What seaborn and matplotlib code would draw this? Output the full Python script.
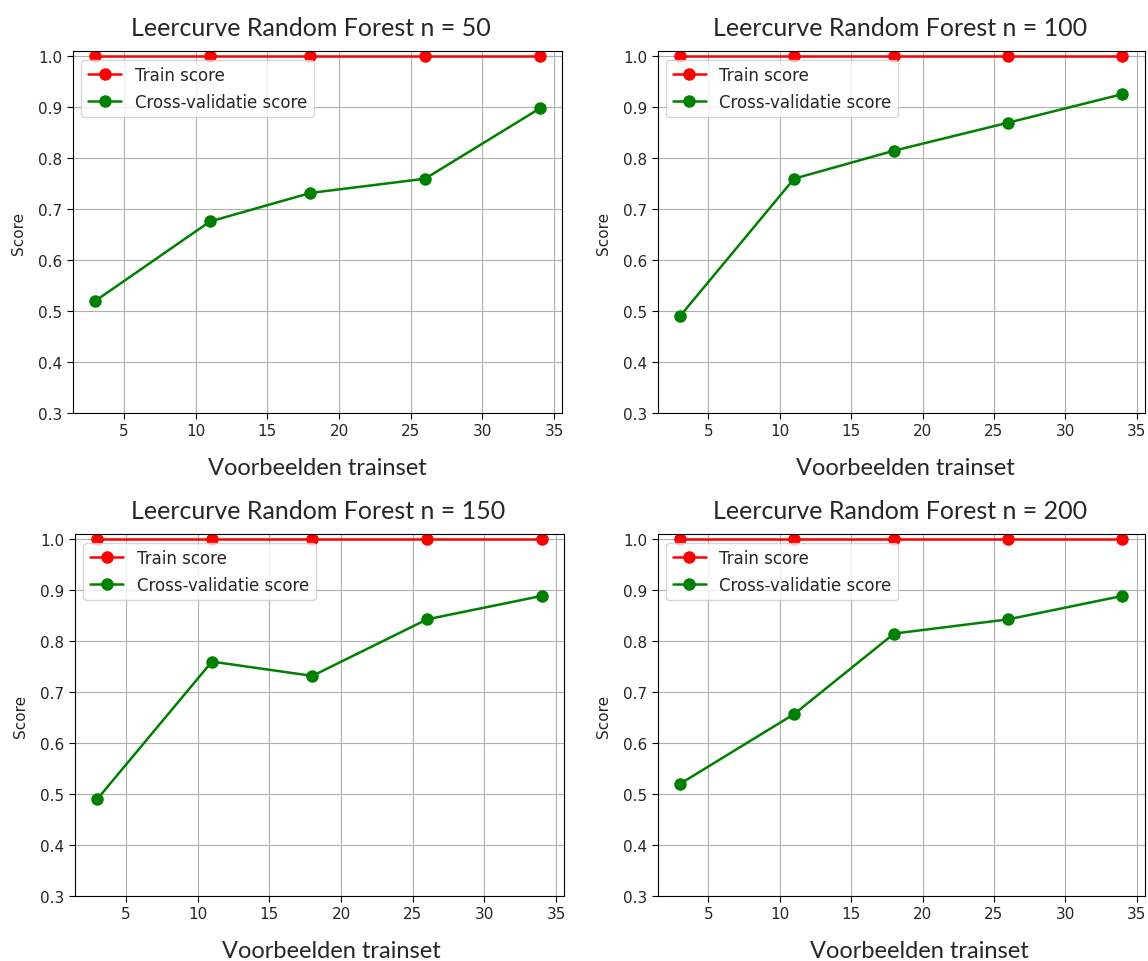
import numpy as np
import pandas as pd
import matplotlib
matplotlib.use("Agg")
import matplotlib.pyplot as plt
import seaborn as sns

# trainset sizes (x) en scores per aantal bomen
train_sizes = [3, 11, 18, 26, 34]
n_trees = [50, 100, 150, 200]
train_scores = {
    50: [1.0, 1.0, 1.0, 1.0, 1.0],
    100: [1.0, 1.0, 1.0, 1.0, 1.0],
    150: [1.0, 1.0, 1.0, 1.0, 1.0],
    200: [1.0, 1.0, 1.0, 1.0, 1.0],
}
cv_scores = {
    50: [0.520, 0.676, 0.732, 0.760, 0.898],
    100: [0.490, 0.760, 0.815, 0.870, 0.926],
    150: [0.490, 0.760, 0.732, 0.843, 0.889],
    200: [0.520, 0.657, 0.815, 0.843, 0.889],
}
labels = ["Train score", "Cross-validatie score"]
y_ticks = [0.3, 0.4, 0.5, 0.6, 0.7, 0.8, 0.9, 1.0]

sns.set_style("ticks", {"axes.grid": True, "grid.color": "#b0b0b0",
                        "axes.edgecolor": "black", "xtick.direction": "out"})
plt.rcParams["font.family"] = ["DejaVu Sans"]

fig = plt.figure(figsize=(11.48, 9.62), dpi=100)

# posities van de vier panelen (figuur-fracties)
positions = [
    [0.0636, 0.5696, 0.426, 0.376],
    [0.5730, 0.5696, 0.424, 0.376],
    [0.0653, 0.0676, 0.426, 0.376],
    [0.5730, 0.0676, 0.424, 0.376],
]
# de losse tekstlabels staan niet overal precies in het midden
xlabel_x = [0.50, 0.509, 0.5235, 0.538]
title_x = [0.486, 0.497, 0.497, 0.497]

palette = {"Train score": "red", "Cross-validatie score": "green"}

for n, pos, xl, tx in zip(n_trees, positions, xlabel_x, title_x):
    ax = fig.add_axes(pos)
    df = pd.DataFrame({
        "size": train_sizes * 2,
        "score": train_scores[n] + cv_scores[n],
        "type": [labels[0]] * 5 + [labels[1]] * 5,
    })
    sns.lineplot(data=df, x="size", y="score", hue="type", palette=palette,
                 marker="o", markersize=9, markeredgewidth=0, linewidth=1.8,
                 legend=False, ax=ax)
    ax.legend(handles=ax.lines[:2], labels=labels, loc="upper left",
              fontsize=12)
    ax.set_ylim(0.3, 1.01)
    ax.set_yticks(y_ticks)
    ax.set_xticks([5, 10, 15, 20, 25, 30, 35])
    ax.tick_params(labelsize=11, length=4, color="black")
    ax.grid(True, color="#b0b0b0", linewidth=0.8)
    ax.set_ylabel("Score", fontsize=11, labelpad=9)
    ax.set_xlabel("Voorbeelden trainset", fontsize=17, family=["Lato"])
    ax.xaxis.set_label_coords(xl, -0.122)
    ax.set_title(f"Leercurve Random Forest n = {n}", fontsize=18,
                 family=["Lato"], pad=12, x=tx)
    for s in ax.spines.values():
        s.set_color("black")

fig.savefig("out.png", dpi=100)
